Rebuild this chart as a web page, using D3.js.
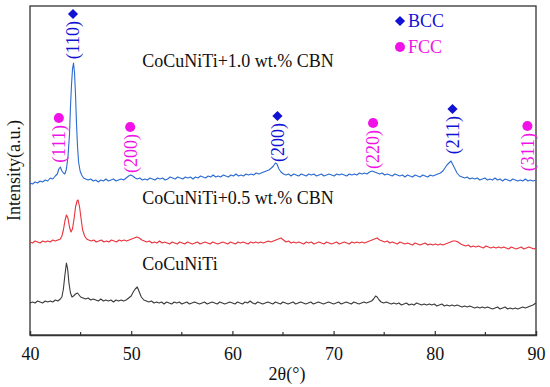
<!DOCTYPE html>
<html>
<head>
	<meta charset="utf-8">
	<script src="https://d3js.org/d3.v7.min.js"></script>
	<style>
		body { margin: 0; background: #fff; }
		text { font-family: "Liberation Serif", "Times New Roman", serif; }
	</style>
</head>
<body>
	<svg width="550" height="387"></svg>
	<script>
		// XRD patterns, [2theta, intensity (a.u., stacked)]
		const cbn10 = [
		[40,152],[40.25,151],[40.5,153],[40.75,152],[41,154],[41.25,153],[41.5,155],[41.75,154],[42,157],[42.25,156],
		[42.5,159],[42.7,161],[42.85,166],[43,168],[43.15,164],[43.3,162],[43.45,161],[43.6,166],[43.75,178],[43.9,200],
		[44.0,228],[44.1,250],[44.2,266],[44.3,272],[44.4,262],[44.5,240],[44.6,210],[44.7,188],[44.8,173],[44.95,164],
		[45.1,160],[45.3,157],[45.5,156],[45.75,155],[46,156],[46.25,154],[46.5,155],[46.75,153],[47,155],[47.25,154],
		[47.5,156],[47.75,154],[48,155],[48.25,156],[48.5,154],[48.75,155],[49,156],[49.25,155],[49.5,157],[49.75,159],
		[49.95,160],[50.15,159],[50.4,157],[50.6,156],[50.85,157],[51.1,155],[51.35,156],[51.6,155],[51.85,157],[52.1,156],
		[52.35,155],[52.6,157],[52.85,156],[53.1,157],[53.35,155],[53.6,156],[53.85,158],[54.1,157],[54.35,156],[54.6,158],
		[54.85,157],[55.1,156],[55.35,158],[55.6,157],[55.85,158],[56.1,156],[56.35,158],[56.6,157],[56.85,159],[57.1,158],
		[57.35,157],[57.6,159],[57.85,158],[58.1,160],[58.35,158],[58.6,159],[58.85,158],[59.1,160],[59.35,159],[59.6,158],
		[59.85,160],[60.1,159],[60.35,161],[60.6,159],[60.85,160],[61.1,159],[61.35,161],[61.6,160],[61.85,161],[62.1,160],
		[62.35,162],[62.6,161],[62.85,162],[63.1,163],[63.35,164],[63.6,165],[63.85,167],[64.05,169],[64.25,172],[64.4,171],
		[64.6,166],[64.8,163],[65.05,161],[65.3,160],[65.55,161],[65.8,159],[66.05,161],[66.3,160],[66.55,159],[66.8,161],
		[67.05,160],[67.3,159],[67.55,161],[67.8,160],[68.05,161],[68.3,159],[68.55,160],[68.8,161],[69.05,159],[69.3,160],
		[69.55,161],[69.8,160],[70.05,159],[70.3,161],[70.55,160],[70.8,161],[71.05,160],[71.3,159],[71.55,161],[71.8,160],
		[72.05,161],[72.3,160],[72.55,162],[72.8,161],[73.05,162],[73.3,161],[73.55,163],[73.8,164],[74.05,163],[74.3,162],
		[74.55,161],[74.8,162],[75.05,160],[75.3,161],[75.55,160],[75.8,159],[76.05,161],[76.3,160],[76.55,159],[76.8,160],
		[77.05,158],[77.3,160],[77.55,159],[77.8,158],[78.05,160],[78.3,159],[78.55,158],[78.8,160],[79.05,159],[79.3,158],
		[79.55,160],[79.8,159],[80.05,160],[80.3,161],[80.55,162],[80.8,164],[81.0,167],[81.2,170],[81.4,172],[81.6,174],
		[81.8,170],[82.0,166],[82.2,162],[82.45,159],[82.7,158],[82.95,157],[83.2,158],[83.45,156],[83.7,157],[83.95,156],
		[84.2,157],[84.45,155],[84.7,156],[84.95,157],[85.2,155],[85.45,156],[85.7,155],[85.95,157],[86.2,155],[86.45,156],
		[86.7,154],[86.95,156],[87.2,155],[87.45,154],[87.7,156],[87.95,155],[88.2,154],[88.45,155],[88.7,154],[88.95,156],
		[89.2,154],[89.45,155],[89.7,154],[90,155]
		];

		const cbn05 = [
		[40,93],[40.25,92],[40.5,94],[40.75,93],[41,92],[41.25,94],[41.5,93],[41.75,94],[42,93],[42.25,95],
		[42.5,94],[42.75,95],[43,96],[43.15,99],[43.3,105],[43.45,114],[43.6,120],[43.75,117],[43.9,108],[44.05,103],
		[44.2,106],[44.35,116],[44.5,128],[44.65,134],[44.75,135],[44.9,128],[45.05,116],[45.2,105],[45.4,99],[45.6,96],
		[45.8,95],[46.05,94],[46.3,95],[46.55,93],[46.8,94],[47.05,95],[47.3,93],[47.55,94],[47.8,93],[48.05,95],
		[48.3,94],[48.55,93],[48.8,95],[49.05,94],[49.3,95],[49.55,94],[49.8,95],[50.05,96],[50.3,97],[50.55,98],
		[50.8,97],[51.05,95],[51.3,94],[51.55,93],[51.8,94],[52.05,92],[52.3,93],[52.55,92],[52.8,94],[53.05,92],
		[53.3,93],[53.55,92],[53.8,91],[54.05,93],[54.3,92],[54.55,91],[54.8,93],[55.05,92],[55.3,91],[55.55,93],
		[55.8,92],[56.05,91],[56.3,92],[56.55,93],[56.8,91],[57.05,92],[57.3,93],[57.55,92],[57.8,91],[58.05,93],
		[58.3,92],[58.55,91],[58.8,92],[59.05,93],[59.3,92],[59.55,91],[59.8,93],[60.05,92],[60.3,91],[60.55,93],
		[60.8,92],[61.05,93],[61.3,92],[61.55,91],[61.8,93],[62.05,92],[62.3,93],[62.55,92],[62.8,93],[63.05,92],
		[63.3,93],[63.55,94],[63.8,93],[64.05,94],[64.3,95],[64.55,96],[64.8,97],[65.05,95],[65.3,93],[65.55,94],
		[65.8,92],[66.05,93],[66.3,92],[66.55,93],[66.8,92],[67.05,91],[67.3,93],[67.55,92],[67.8,93],[68.05,91],
		[68.3,92],[68.55,93],[68.8,92],[69.05,91],[69.3,93],[69.55,92],[69.8,91],[70.05,92],[70.3,93],[70.55,91],
		[70.8,92],[71.05,93],[71.3,92],[71.55,91],[71.8,93],[72.05,92],[72.3,93],[72.55,92],[72.8,93],[73.05,92],
		[73.3,93],[73.55,94],[73.8,95],[74.05,96],[74.3,97],[74.55,95],[74.8,94],[75.05,93],[75.3,94],[75.55,92],
		[75.8,93],[76.05,92],[76.3,91],[76.55,93],[76.8,92],[77.05,91],[77.3,92],[77.55,91],[77.8,90],[78.05,92],
		[78.3,91],[78.55,90],[78.8,91],[79.05,92],[79.3,90],[79.55,91],[79.8,90],[80.05,91],[80.3,90],[80.55,91],
		[80.8,90],[81.05,91],[81.3,92],[81.55,93],[81.8,94],[82.05,94],[82.3,93],[82.55,91],[82.8,90],[83.05,89],
		[83.3,90],[83.55,88],[83.8,89],[84.05,88],[84.3,89],[84.55,88],[84.8,87],[85.05,89],[85.3,88],[85.55,87],
		[85.8,88],[86.05,87],[86.3,88],[86.55,87],[86.8,88],[87.05,87],[87.3,86],[87.55,88],[87.8,87],[88.05,86],
		[88.3,87],[88.55,88],[88.8,86],[89.05,87],[89.3,88],[89.55,87],[89.8,86],[90,87]
		];

		const base = [
		[40,32],[40.25,33],[40.5,32],[40.75,34],[41,33],[41.25,32],[41.5,34],[41.75,33],[42,34],[42.25,33],
		[42.5,35],[42.75,34],[43,36],[43.15,38],[43.3,46],[43.45,60],[43.6,72],[43.72,66],[43.85,52],[44.0,42],
		[44.15,38],[44.3,39],[44.5,41],[44.7,42],[44.85,40],[45.0,38],[45.25,37],[45.5,36],[45.75,37],[46,35],
		[46.25,36],[46.5,35],[46.75,34],[47,36],[47.25,34],[47.5,35],[47.75,34],[48,35],[48.25,33],[48.5,35],
		[48.75,34],[49,35],[49.25,34],[49.5,35],[49.75,37],[50.0,39],[50.2,43],[50.4,46],[50.6,48],[50.8,43],
		[51.0,38],[51.25,35],[51.5,34],[51.75,33],[52,34],[52.25,32],[52.5,33],[52.75,32],[53,33],[53.25,31],
		[53.5,33],[53.75,32],[54,31],[54.25,33],[54.5,32],[54.75,33],[55,31],[55.25,32],[55.5,33],[55.75,31],
		[56,32],[56.25,33],[56.5,32],[56.75,31],[57,32],[57.25,33],[57.5,31],[57.75,32],[58,33],[58.25,32],
		[58.5,31],[58.75,33],[59,32],[59.25,31],[59.5,32],[59.75,33],[60,32],[60.25,31],[60.5,33],[60.75,32],
		[61,31],[61.25,33],[61.5,32],[61.75,34],[62,32],[62.25,31],[62.5,33],[62.75,32],[63,31],[63.25,32],
		[63.5,33],[63.75,32],[64,31],[64.25,33],[64.5,32],[64.75,31],[65,33],[65.25,32],[65.5,31],[65.75,32],
		[66,33],[66.25,31],[66.5,32],[66.75,33],[67,32],[67.25,31],[67.5,32],[67.75,33],[68,31],[68.25,32],
		[68.5,33],[68.75,32],[69,31],[69.25,32],[69.5,33],[69.75,32],[70,31],[70.25,32],[70.5,33],[70.75,31],
		[71,32],[71.25,33],[71.5,32],[71.75,31],[72,33],[72.25,32],[72.5,31],[72.75,32],[73,33],[73.25,32],
		[73.5,33],[73.75,34],[73.95,36],[74.15,39],[74.3,38],[74.5,35],[74.7,33],[74.95,32],[75.2,33],[75.45,32],
		[75.7,31],[75.95,32],[76.2,31],[76.45,32],[76.7,30],[76.95,31],[77.2,32],[77.45,30],[77.7,31],[77.95,30],
		[78.2,32],[78.45,31],[78.7,30],[78.95,31],[79.2,30],[79.45,31],[79.7,30],[79.95,31],[80.2,29],[80.45,30],
		[80.7,31],[80.95,29],[81.2,30],[81.45,29],[81.7,30],[81.95,29],[82.2,30],[82.45,29],[82.7,28],[82.95,29],
		[83.2,28],[83.45,29],[83.7,28],[83.95,27],[84.2,28],[84.45,27],[84.7,28],[84.95,27],[85.2,28],[85.45,27],
		[85.7,26],[85.95,27],[86.2,28],[86.45,26],[86.7,27],[86.95,28],[87.2,26],[87.45,27],[87.7,26],[87.95,27],
		[88.2,26],[88.45,27],[88.7,28],[88.95,27],[89.2,28],[89.45,29],[89.7,30],[90,32]
		];

		const seriesNames = ["CoCuNiTi+1.0 wt.% CBN", "CoCuNiTi+0.5 wt.% CBN", "CoCuNiTi"];
		const seriesData = [cbn10, cbn05, base];
		const seriesColors = ["#2a6bd0", "#e8323c", "#3a3a3a"];
		const seriesLabelAt = [[51.1, 268], [51.1, 131], [51.1, 65]];

		// peak markers: 2theta, marker height, hkl
		const bccPos = [44.25, 64.45, 81.75];
		const bccHeight = [321, 219, 226];
		const bccHkl = ["(110)", "(200)", "(211)"];
		const fccPos = [42.85, 49.9, 73.9, 89.15];
		const fccHeight = [217, 208, 212, 209];
		const fccHkl = ["(111)", "(200)", "(220)", "(311)"];

		const xTicks = [40, 50, 60, 70, 80, 90];
		const xMinor = [45, 55, 65, 75, 85];

		const bccColor = "#1212d4", fccColor = "#f012e6";
		const fs = 18;

		const svg = d3.select("svg");
		const m = {left: 30, right: 536, top: 6, bottom: 335};

		const x = d3.scaleLinear().domain([40, 90]).range([m.left, m.right]);
		const y = d3.scaleLinear().domain([0, 329]).range([m.bottom, m.top]);

		// frame
		svg.append("rect")
			.attr("x", m.left).attr("y", m.top)
			.attr("width", m.right - m.left).attr("height", m.bottom - m.top)
			.attr("fill", "none").attr("stroke", "#333").attr("stroke-width", 1.3);

		// bottom axis, ticks pointing in
		const xAxis = svg.append("g")
			.attr("transform", `translate(0,${m.bottom})`)
			.call(d3.axisBottom(x).tickValues(xTicks).tickSize(-4).tickPadding(12).tickFormat(d3.format("d")));
		xAxis.attr("font-family", null);
		xAxis.select(".domain").attr("stroke", "#333").attr("stroke-width", 1.3);
		xAxis.selectAll(".tick line").attr("stroke", "#333").attr("stroke-width", 1.2);
		xAxis.selectAll(".tick text").attr("font-size", fs).attr("fill", "#111");

		svg.append("g").selectAll("line").data(xMinor).join("line")
			.attr("x1", d => x(d)).attr("x2", d => x(d))
			.attr("y1", m.bottom).attr("y2", m.bottom - 3)
			.attr("stroke", "#333").attr("stroke-width", 1.2);

		svg.append("text")
			.attr("x", (m.left + m.right) / 2 + 4).attr("y", 380)
			.attr("text-anchor", "middle").attr("font-size", fs).attr("fill", "#111")
			.text("2θ(°)");

		svg.append("text")
			.attr("transform", `translate(20,${(m.top + m.bottom) / 2}) rotate(-90)`)
			.attr("text-anchor", "middle").attr("font-size", fs).attr("fill", "#111")
			.text("Intensity(a.u.)");

		// patterns
		const line = d3.line().x(d => x(d[0])).y(d => y(d[1]));
		seriesData.forEach((s, i) => {
			svg.append("path")
				.datum(s)
				.attr("fill", "none")
				.attr("stroke", seriesColors[i])
				.attr("stroke-width", 1.1)
				.attr("stroke-linejoin", "round")
				.attr("d", line);
			svg.append("text")
				.attr("x", x(seriesLabelAt[i][0])).attr("y", y(seriesLabelAt[i][1]))
				.attr("font-size", fs).attr("fill", "#111")
				.text(seriesNames[i]);
		});

		// peak annotations
		const diamond = d3.symbol().type(d3.symbolSquare).size(52);
		const dot = d3.symbol().type(d3.symbolCircle).size(80);

		function peaks(pos, h, hkl, color, sym, rot) {
			pos.forEach((p, i) => {
				svg.append("path")
					.attr("d", sym)
					.attr("transform", `translate(${x(p)},${y(h[i])}) rotate(${rot})`)
					.attr("fill", color);
				svg.append("text")
					.attr("transform", `translate(${x(p)},${y(h[i]) + 7}) rotate(-90)`)
					.attr("text-anchor", "end").attr("dy", "0.35em")
					.attr("font-size", fs).attr("fill", color)
					.text(hkl[i]);
			});
		}
		peaks(bccPos, bccHeight, bccHkl, bccColor, diamond, 45);
		peaks(fccPos, fccHeight, fccHkl, fccColor, dot, 0);

		// legend
		const lg = svg.append("g").attr("transform", "translate(400,21)");
		lg.append("path").attr("d", diamond).attr("transform", "rotate(45)").attr("fill", bccColor);
		lg.append("text").attr("x", 8).attr("y", 6).attr("font-size", fs).attr("fill", bccColor).text("BCC");
		lg.append("path").attr("d", dot).attr("transform", "translate(0,26)").attr("fill", fccColor);
		lg.append("text").attr("x", 8).attr("y", 32).attr("font-size", fs).attr("fill", fccColor).text("FCC");
	</script>
</body>
</html>
